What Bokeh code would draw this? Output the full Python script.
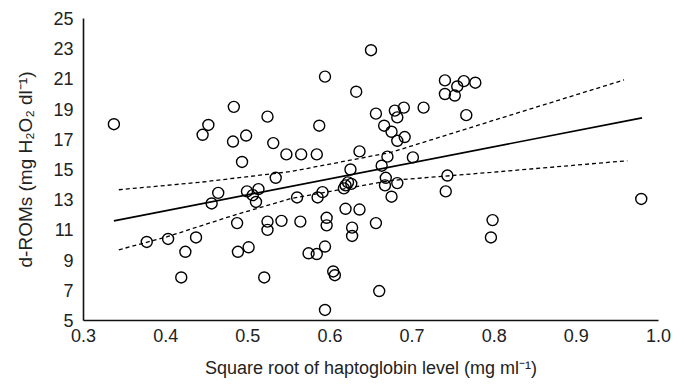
from bokeh.plotting import figure
from bokeh.models import FixedTicker, NumeralTickFormatter, ColumnDataSource
from bokeh.embed import file_html
from bokeh.resources import INLINE

# Scatter data: square root of haptoglobin level vs d-ROMs
hp_sqrt = [0.337, 0.445, 0.452, 0.483, 0.482, 0.498, 0.493, 0.524, 0.531, 0.547,
           0.565, 0.584, 0.587, 0.594, 0.632, 0.650, 0.656, 0.636, 0.740, 0.763,
           0.777, 0.755, 0.740, 0.752, 0.679, 0.690, 0.682, 0.714, 0.766, 0.666,
           0.675, 0.682, 0.691, 0.670, 0.701, 0.663, 0.625, 0.534, 0.464, 0.456,
           0.499, 0.513, 0.506, 0.510, 0.560, 0.585, 0.591, 0.617, 0.619, 0.622,
           0.626, 0.619, 0.636, 0.656, 0.487, 0.524, 0.524, 0.541, 0.564, 0.596,
           0.596, 0.627, 0.627, 0.377, 0.403, 0.437, 0.424, 0.488, 0.501, 0.574,
           0.584, 0.594, 0.419, 0.520, 0.604, 0.606, 0.660, 0.594, 0.668, 0.667,
           0.682, 0.675, 0.743, 0.741, 0.798, 0.796, 0.979]
d_roms = [18.0, 17.3, 17.95, 19.15, 16.85, 17.25, 15.5, 18.5, 16.75, 16.0,
          16.0, 16.0, 17.9, 21.15, 20.15, 22.9, 18.7, 16.2, 20.9, 20.85,
          20.75, 20.5, 20.0, 19.9, 18.9, 19.1, 18.45, 19.1, 18.6, 17.9,
          17.5, 16.9, 17.15, 15.85, 15.8, 15.25, 15.0, 14.45, 13.45, 12.75,
          13.55, 13.7, 13.3, 12.85, 13.15, 13.15, 13.5, 13.75, 13.95, 14.15,
          14.05, 12.4, 12.35, 11.45, 11.45, 11.55, 11.0, 11.6, 11.55, 11.8,
          11.3, 11.15, 10.6, 10.2, 10.4, 10.5, 9.55, 9.55, 9.85, 9.45,
          9.4, 9.9, 7.85, 7.85, 8.25, 8.0, 6.95, 5.7, 14.45, 13.95,
          14.1, 13.2, 14.6, 13.55, 11.65, 10.5, 13.05]

# Regression line end points
fit_x = [0.337, 0.980]
fit_y = [11.6, 18.42]

# Confidence band
upper_x = [0.343, 0.443, 0.552, 0.674, 0.771, 0.796, 0.958]
upper_y = [13.66, 14.16, 14.86, 16.13, 17.77, 18.20, 20.93]
lower_x = [0.343, 0.402, 0.483, 0.552, 0.674, 0.771, 0.796, 0.962]
lower_y = [9.68, 10.55, 11.97, 13.07, 14.27, 14.70, 14.81, 15.58]

x_ticks = [0.3, 0.4, 0.5, 0.6, 0.7, 0.8, 0.9, 1.0]
y_ticks = [5, 7, 9, 11, 13, 15, 17, 19, 21, 23, 25]

FONT = "Liberation Sans"
TXT = "#222222"

p = figure(width=676, height=380, x_range=(0.3, 1.0), y_range=(5, 25),
           output_backend="svg", toolbar_location=None,
           min_border_left=83, min_border_right=18,
           min_border_top=18, min_border_bottom=57)
p.outline_line_color = None
p.grid.visible = False
p.background_fill_color = "white"

src = ColumnDataSource(dict(x=hp_sqrt, y=d_roms))
p.scatter("x", "y", source=src, size=11, fill_alpha=0,
          line_color="black", line_width=1.4)

p.line(fit_x, fit_y, line_color="black", line_width=1.7)
p.line(upper_x, upper_y, line_color="black", line_width=1.3, line_dash="4 3")
p.line(lower_x, lower_y, line_color="black", line_width=1.3, line_dash="4 3")

for ax in (p.xaxis[0], p.yaxis[0]):
    ax.axis_line_color = "#111111"
    ax.axis_line_width = 1.6
    ax.major_tick_line_color = None
    ax.minor_tick_line_color = None
    ax.major_tick_out = 0
    ax.major_tick_in = 0
    ax.major_label_text_font = FONT
    ax.major_label_text_font_size = "18px"
    ax.major_label_text_color = TXT
    ax.axis_label_text_font = FONT
    ax.axis_label_text_font_style = "normal"
    ax.axis_label_text_color = TXT

p.xaxis.axis_label_text_font_size = "18px"
p.yaxis.axis_label_text_font_size = "19px"
p.xaxis.ticker = FixedTicker(ticks=x_ticks)
p.yaxis.ticker = FixedTicker(ticks=y_ticks)
p.xaxis.formatter = NumeralTickFormatter(format="0.0")
p.xaxis.major_label_standoff = 8
p.yaxis.major_label_standoff = 10
p.xaxis.axis_label = "Square root of haptoglobin level (mg ml\u207b\u00b9)"
p.yaxis.axis_label = "d-ROMs (mg H\u2082O\u2082 dl\u207b\u00b9)"
p.xaxis.axis_label_standoff = 13
p.yaxis.axis_label_standoff = 14

open("out.html", "w").write(file_html(p, INLINE))
